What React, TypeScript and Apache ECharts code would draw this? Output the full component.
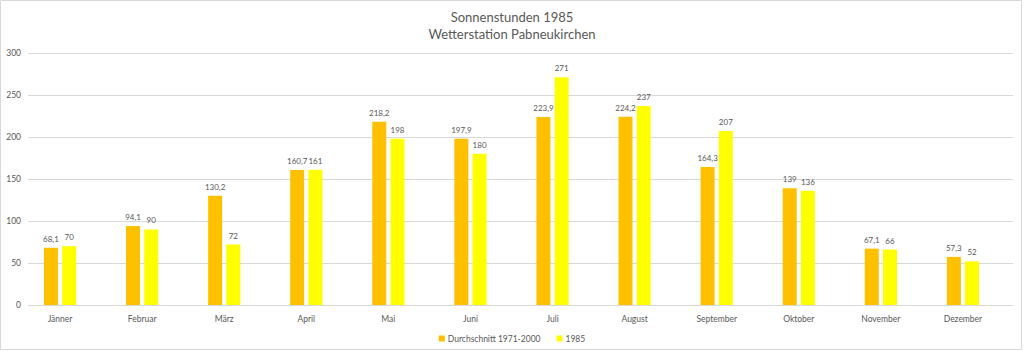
import React, { useEffect, useRef } from "react";
import * as echarts from "echarts";

const categories = ["Jänner", "Februar", "März", "April", "Mai", "Juni", "Juli", "August", "September", "Oktober", "November", "Dezember"];
const avgName = "Durchschnitt 1971-2000";
const yearName = "1985";
const avgValues = [68.1, 94.1, 130.2, 160.7, 218.2, 197.9, 223.9, 224.2, 164.3, 139, 67.1, 57.3];
const yearValues = [70, 90, 72, 161, 198, 180, 271, 237, 207, 136, 66, 52];
const yTicks = { min: 0, max: 300, interval: 50 };

const FONT = "Lato, 'Open Sans', sans-serif";
const GRAY = "#595959";

export default function App() {
  const ref = useRef<HTMLDivElement>(null);
  useEffect(() => {
    if (!ref.current) return;
    const chart = echarts.init(ref.current, null, { renderer: "svg" });
    const label = {
      show: true,
      position: "top",
      distance: 5,
      color: GRAY,
      fontSize: 8,
      fontFamily: FONT,
      formatter: (p: any) => String(p.value).replace(".", ","),
    };
    chart.setOption({
      animation: false,
      backgroundColor: "#ffffff",
      textStyle: { fontFamily: FONT },
      title: {
        text: "Sonnenstunden 1985\nWetterstation Pabneukirchen",
        left: "center",
        top: 3,
        textStyle: { fontSize: 13, fontWeight: "normal", color: GRAY, fontFamily: FONT, lineHeight: 17 },
      },
      legend: {
        top: 329,
        left: "center",
        itemWidth: 6,
        itemHeight: 6,
        itemGap: 16,
        icon: "rect",
        textStyle: { fontSize: 8.5, color: GRAY, fontFamily: FONT, padding: [0, 0, 0, -2] },
        data: [avgName, yearName],
      },
      grid: [
        { left: 19, right: 20, top: 53, bottom: 46, containLabel: false },
        { left: 28, right: 11, top: 53, bottom: 46, containLabel: false },
      ],
      xAxis: [
        {
          type: "category",
          gridIndex: 0,
          data: categories,
          axisTick: { show: false },
          axisLine: { show: false },
          axisLabel: { color: GRAY, fontSize: 8.5, margin: 9, fontFamily: FONT },
        },
        {
          type: "category",
          gridIndex: 1,
          data: categories,
          axisTick: { show: false },
          axisLabel: { show: false },
          axisLine: { lineStyle: { color: "#d9d9d9" } },
        },
      ],
      yAxis: [
        {
          type: "value",
          gridIndex: 0,
          ...yTicks,
          show: false,
          splitLine: { show: false },
        },
        {
          type: "value",
          gridIndex: 1,
          ...yTicks,
          axisLine: { show: false },
          axisTick: { show: false },
          splitLine: { lineStyle: { color: "#d9d9d9" } },
          axisLabel: { color: GRAY, fontSize: 8.5, margin: 7, fontFamily: FONT },
        },
      ],
      series: [
        { name: avgName, type: "bar", xAxisIndex: 0, yAxisIndex: 0, data: avgValues, barWidth: 14, barGap: "30%", itemStyle: { color: "#FFC000" }, label },
        { name: yearName, type: "bar", xAxisIndex: 0, yAxisIndex: 0, data: yearValues, barWidth: 14, itemStyle: { color: "#FFFF00" }, label },
      ],
      graphic: [
        {
          type: "rect",
          shape: { x: 0.5, y: 0.5, width: 1021, height: 349 },
          style: { fill: "none", stroke: "#d9d9d9", lineWidth: 1 },
          silent: true,
        },
      ],
    });
    return () => chart.dispose();
  }, []);
  return <div ref={ref} style={{ position: "absolute", left: 0, top: 0, width: 1024, height: 351 }} />;
}
